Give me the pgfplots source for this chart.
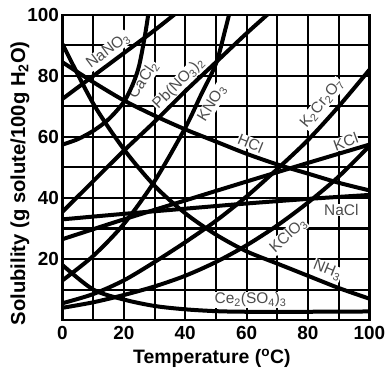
\documentclass[border=0pt]{standalone}
\usepackage{pgfplots}
\pgfplotsset{compat=1.18}
\usepackage{fontspec}
\setmainfont{Liberation Sans}
\tikzset{lbl/.style={fill=white, inner sep=0.6bp, text=black!70, font=\fontsize{15.5}{16}\selectfont}}
\begin{document}
\begin{tikzpicture}
\begin{axis}[
  at={(0,0)}, anchor=south west,
  width=306.8bp, height=305bp, scale only axis,
  xmin=0, xmax=100, ymin=0, ymax=100,
  xtick={0,20,...,100}, ytick={20,40,...,100},
  minor xtick={10,30,...,90}, minor ytick={10,30,...,90},
  grid=both,
  major grid style={black, line width=2bp},
  minor grid style={black, line width=2bp},
  axis line style={line width=2.5bp},
  tick style={draw=none},
  /pgf/number format/assume math mode=true,
  ticklabel style={font=\bfseries\fontsize{19}{19}\selectfont},
  xticklabel style={yshift=-3bp},
  xlabel={Temperature (\textsuperscript{o}C)},
  ylabel={Solubility (g solute/100g H\textsubscript{2}O)},
  xlabel style={font=\bfseries\fontsize{19.5}{20}\selectfont, at={(axis description cs:0.487,-0.125)}, anchor=center},
  ylabel style={font=\bfseries\fontsize{20.3}{21}\selectfont, at={(axis description cs:-0.1385,0.448)}, anchor=center},
  cycle list={black,solid,line width=4bp,smooth,mark=none\\},
]
\node[lbl, rotate=37] at (axis cs:14.9,88.3) {NaNO\textsubscript{3}};
\node[lbl, rotate=56] at (axis cs:26.4,78.7) {CaCl\textsubscript{2}};
\node[lbl, rotate=45] at (axis cs:37.9,77.5) {Pb(NO\textsubscript{3})\textsubscript{2}};
\node[lbl, rotate=58] at (axis cs:48.8,71) {KNO\textsubscript{3}};
\node[lbl, rotate=-22] at (axis cs:61.3,57.9) {HCl};
\node[lbl, rotate=50] at (axis cs:84.6,71) {K\textsubscript{2}Cr\textsubscript{2}O\textsubscript{7}};
\node[lbl, rotate=20] at (axis cs:92.3,58.4) {KCl};
\node[lbl] at (axis cs:90.9,36.1) {NaCl};
\node[lbl, rotate=42] at (axis cs:73.6,27.7) {KClO\textsubscript{3}};
\node[lbl, rotate=-22] at (axis cs:86.3,16.3) {NH\textsubscript{3}};
\node[lbl] at (axis cs:61.3,6.6) {Ce\textsubscript{2}(SO\textsubscript{4})\textsubscript{3}};
% NaNO3
\addplot coordinates {(0,72.5)(10,80)(20,87.5)(30,95)(40,103)};
% CaCl2
\addplot coordinates {(0,57.5)(5,59.3)(10,62)(15,65.8)(20,71.5)(23,77.5)(25,83.5)(27,94)(28.5,104)};
% Pb(NO3)2
\addplot coordinates {(0,35.5)(10,45.5)(20,55.5)(30,65)(40,75)(50,84.5)(60,94)(70,103)};
% KNO3
\addplot coordinates {(0,13)(10,21)(20,31.5)(30,45.5)(40,63)(45,73.5)(50,84)(53,95)(55,103)};
% HCl
\addplot coordinates {(0,84.5)(10,78)(20,72)(30,67)(40,62.5)(50,58.5)(60,54.5)(70,51)(80,48)(90,45)(100,42.5)};
% NH3
\addplot coordinates {(0,90.5)(10,71)(20,56)(30,44)(40,35)(50,28)(60,22.5)(70,18.5)(80,14.5)(90,10.5)(100,7)};
% KCl
\addplot coordinates {(0,26.5)(20,33)(40,39.2)(60,45.4)(80,51.5)(100,57.5)};
% NaCl
\addplot coordinates {(0,33)(20,34.8)(40,36.5)(60,38.2)(80,39.7)(100,41)};
% KClO3
\addplot coordinates {(0,4)(10,5.8)(20,8.2)(30,11)(40,14.5)(50,19)(60,24.5)(70,31)(80,38.5)(90,47)(100,57)};
% K2Cr2O7
\addplot coordinates {(0,5.5)(10,8.5)(20,13)(30,19)(40,25.5)(50,32.5)(60,40.5)(70,49.5)(80,59)(90,70)(100,82)};
% Ce2(SO4)3
\addplot coordinates {(0,18)(10,10)(20,6.7)(30,4.6)(40,3.5)(50,2.9)(60,2.7)(80,2.7)(100,2.8)};
\end{axis}
\pgfresetboundingbox
\path[use as bounding box] (-62.5bp,-57bp) rectangle (326.5bp,320bp);
\end{tikzpicture}
\end{document}
